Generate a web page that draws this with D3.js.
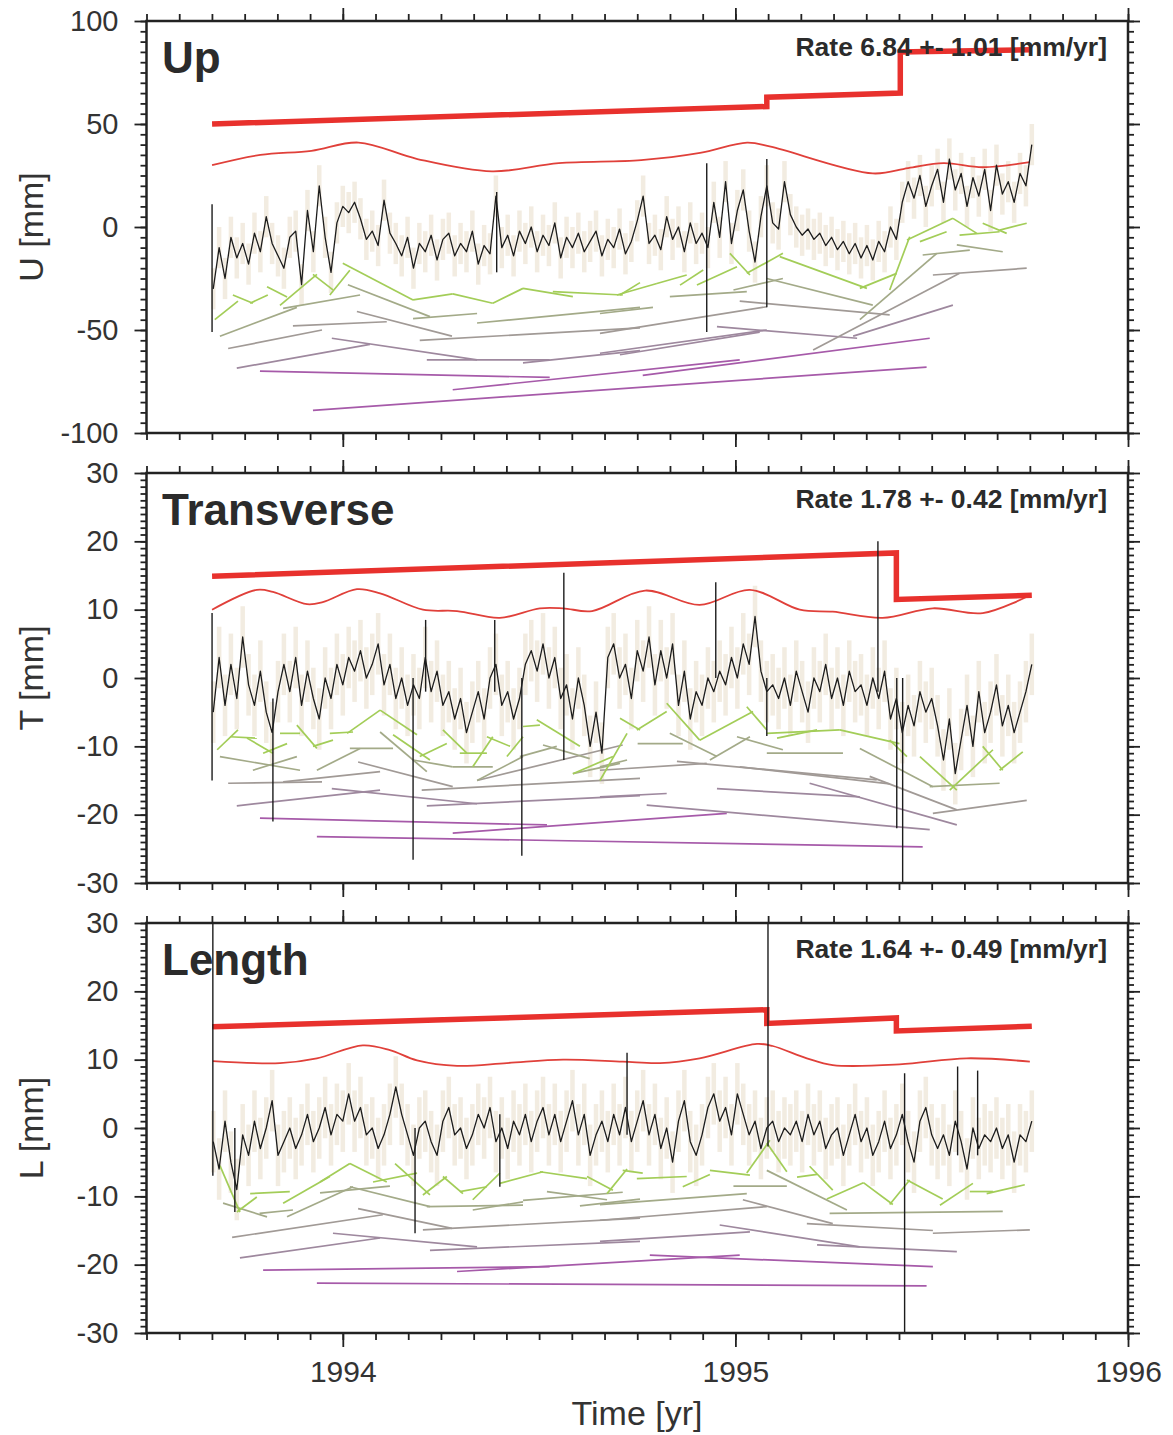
<!DOCTYPE html>
<html>
<head>
<meta charset="utf-8">
<script src="https://cdn.jsdelivr.net/npm/d3@7"></script>
<style>
  body { margin: 0; background: #fff; }
  text { font-family: "Liberation Sans", Arial, Helvetica, sans-serif; }
</style>
</head>
<body>
<div id="chart"></div>
<script>
const W = 1173, H = 1435;
const xLeft = 146.5, xRight = 1128;
const xDomain = [1993.5, 1996];
const years = [1994, 1995, 1996];

const titles = ["Up", "Transverse", "Length"];
const yLabels = ["U [mm]", "T [mm]", "L [mm]"];
const yDomains = [[-100, 100], [-30, 30], [-30, 30]];
const rates = ["Rate 6.84 +- 1.01 [mm/yr]", "Rate 1.78 +- 0.42 [mm/yr]", "Rate 1.64 +- 0.49 [mm/yr]"];

// daily-ish samples, every ~0.015 yr
const tStart = 1993.67, tStep = 0.015;

const upValues = [
  -30,-10,-25,-5,-15,-8,-18,-3,-12,5,
  -8,-14,-20,-5,-2,-28,8,-12,20,-5,
  -22,2,10,7,12,4,-6,-2,-9,13,
  -3,-8,-14,-5,-20,-8,-12,-4,-16,-6,
  -3,-14,-8,-12,-2,-18,-9,-13,15,-10,
  -4,-14,-2,-8,0,-12,-4,-9,2,-15,
  -5,-10,-3,-12,-7,-2,-14,-6,-10,-1,
  -13,-7,3,15,-8,-4,-11,5,-6,0,
  -12,2,-8,-3,-10,12,-5,22,-8,8,
  18,-2,-17,5,20,2,-1,22,6,0,
  -4,-1,-6,-3,-9,-5,-11,-7,-13,-8,
  -15,-9,-16,-7,-12,0,-6,12,22,14,
  25,10,20,28,12,33,18,26,10,24,
  15,28,8,30,16,22,12,26,20,40
];
const transValues = [
  -5,3,-4,2,-3,6,-1,-4,1,-5,
  -8,-2,2,-2,3,-4,1,-3,-6,0,
  -3,2,-1,3,1,4,0,2,5,-1,
  2,-3,0,-4,-1,-3,3,-2,1,-4,
  -2,-6,-3,-8,-5,-2,-6,0,2,-4,
  -2,-6,-3,2,4,1,5,0,3,-3,
  -1,-6,0,-4,-10,-5,-11,3,5,0,
  2,-3,4,1,6,-1,4,0,5,-4,
  1,-6,-2,-4,0,-2,1,-1,3,0,
  5,2,9,1,-2,-1,-3,0,-4,1,
  -2,-5,0,-2,2,-3,0,-4,1,-2,
  -1,-4,0,-3,1,-6,-3,-8,-4,-7,
  -2,-5,-3,-7,-12,-6,-14,-9,-4,-10,
  -2,-8,-5,-1,-7,-4,-8,-5,-2,2
];
const lenValues = [
  -2,-6,1,-5,-9,-1,-4,1,-3,0,
  4,-4,-2,0,-3,-1,2,-2,0,3,
  -1,2,1,5,1,3,-1,0,-3,-1,
  2,6,2,-1,-4,0,1,-2,-4,1,
  3,-1,0,-3,-1,2,0,3,-2,0,
  -3,1,-1,2,-2,1,3,-1,2,-2,
  1,4,-1,2,-4,-1,1,-2,2,-1,
  3,-2,1,4,-1,2,-3,0,-5,1,
  4,-2,-4,-1,3,5,1,3,-1,5,
  2,-1,1,-3,0,1,-2,0,-1,1,
  -2,2,-1,1,-3,-1,0,-4,-1,2,
  -2,0,-4,-2,1,-3,-1,2,-2,-5,
  1,3,-1,-3,-1,-4,1,-2,-6,0,
  -3,-1,-2,0,-3,-1,-5,-1,-2,1
];
const sigmas = [10, 4.5, 4.5];

// single-day outliers: [time, high, low]
const upSpikes = [[1993.667, 11, -51], [1994.392, 17, -22], [1994.927, 31, -51], [1995.080, 33, -39]];
const transSpikes = [[1993.667, 9.5, -15], [1993.822, -3, -21], [1994.179, 0, -26.6], [1994.211, 8.5, -2],
  [1994.387, 8.5, -2], [1994.456, 0, -26], [1994.563, 15.4, -12], [1994.950, 14, 0], [1995.080, 0, -8.5],
  [1995.363, 20, -2], [1995.411, 0, -22], [1995.426, 0, -30]];
const lenSpikes = [[1993.669, 30, -7], [1993.725, 0, -12.3], [1994.184, 0, -15.4], [1994.400, 2, -8.6],
  [1994.724, 11, -1], [1995.083, 30, -2.7], [1995.431, 8, -30], [1995.566, 9, -4], [1995.617, 8.4, -4]];

// rate + offsets model (thick red)
const upStep = [[1993.667, 50], [1995.08, 58.5], [1995.08, 63], [1995.42, 65], [1995.42, 85], [1995.755, 86]];
const transStep = [[1993.667, 14.9], [1995.41, 18.3], [1995.41, 11.5], [1995.755, 12.1]];
const lenStep = [[1993.667, 14.8], [1995.08, 17.3], [1995.08, 15.3], [1995.41, 16.1], [1995.41, 14.2], [1995.755, 14.9]];

// seasonal model (thin red)
const upSeasonal = [[1993.667,30],[1993.79,35],[1993.92,37],[1994.04,41],[1994.19,33],[1994.38,27],[1994.55,31],
  [1994.76,32.5],[1994.91,36],[1995.03,41],[1995.09,39],[1995.35,26],[1995.44,28.6],[1995.53,31],[1995.63,29],[1995.75,31.5]];
const transSeasonal = [[1993.667,10],[1993.781,12.9],[1993.822,12.6],[1993.909,10.8],[1993.949,11.1],[1994.036,13],
  [1994.095,12.4],[1994.204,10],[1994.291,9.8],[1994.40,8.8],[1994.502,10.2],[1994.561,10.2],[1994.635,9.8],
  [1994.77,12.8],[1994.909,10.7],[1995.037,12.9],[1995.164,10],[1995.248,9.7],[1995.375,8.8],[1995.503,10.2],
  [1995.63,9.5],[1995.75,12.1]];
const lenSeasonal = [[1993.669,9.8],[1993.84,9.5],[1993.934,10.2],[1994.051,12.1],[1994.12,11.4],[1994.189,9.9],
  [1994.291,9.1],[1994.418,9.5],[1994.561,10],[1994.713,9.7],[1994.808,9.5],[1994.909,10.2],[1995.055,12.3],
  [1995.095,12],[1995.182,10.2],[1995.248,9.2],[1995.418,9.3],[1995.589,10.2],[1995.75,9.7]];

// multi-scale fits: [level, t0, v0, t1, v1]
const upSegs = [
  [0,1993.674,-45,1993.733,-36],[0,1993.720,-33,1993.771,-37],[0,1993.764,-37,1993.809,-33],
  [0,1993.807,-29,1993.858,-34],[0,1993.840,-38,1993.934,-23],[0,1993.924,-23,1993.975,-30.5],
  [0,1993.967,-33,1994.018,-21],[0,1994.000,-17.6,1994.179,-35.4],[0,1994.179,-35.4,1994.280,-32.5],
  [0,1994.280,-32.5,1994.382,-37],[0,1994.382,-37,1994.459,-29.8],[0,1994.459,-29.8,1994.586,-33.8],
  [0,1994.535,-31.4,1994.713,-33],[0,1994.706,-33,1994.757,-27],[0,1994.698,-33,1994.800,-27.4],
  [0,1994.800,-27.4,1994.876,-23.3],[0,1994.859,-28.2,1994.918,-20.9],[0,1994.902,-28.2,1995.004,-19.3],
  [0,1994.986,-12.8,1995.037,-23.3],[0,1995.029,-22.5,1995.121,-12.8],[0,1995.113,-14.4,1995.335,-29.8],
  [0,1995.317,-29.8,1995.411,-22.5],[0,1995.393,-30.6,1995.444,-4.7],[0,1995.437,-6.3,1995.554,4.2],
  [0,1995.470,-7.1,1995.538,-2.3],[0,1995.554,4.2,1995.615,-3.1],[0,1995.571,-3.9,1995.673,-2.3],
  [0,1995.630,1.8,1995.691,-3.1],[0,1995.673,-1.5,1995.742,1.8],
  [1,1993.687,-53,1993.883,-39],[1,1993.848,-39.5,1994.044,-33],[1,1994.013,-28,1994.222,-43.5],
  [1,1994.179,-44.5,1994.342,-42],[1,1994.342,-46.6,1994.757,-39],[1,1994.655,-42,1994.790,-39],
  [1,1994.833,-33.8,1995.029,-31.4],[1,1994.995,-30.6,1995.121,-25],[1,1995.080,-25,1995.350,-37.9],
  [1,1995.317,-45,1995.513,-12.8],[1,1995.477,-13.6,1995.597,-11.2],[1,1995.564,-8.7,1995.681,-12],
  [2,1993.873,-48,1994.112,-46],[2,1993.708,-59,1993.947,-50],[2,1994.036,-41,1994.278,-53],
  [2,1994.196,-55,1994.757,-49],[2,1994.655,-51.6,1995.080,-38.7],[2,1995.011,-36,1995.393,-42.7],
  [2,1995.198,-59.7,1995.571,-22.5],[2,1995.503,-23.3,1995.742,-20],
  [3,1993.730,-68.5,1994.069,-57],[3,1993.972,-54,1994.342,-64.5],[3,1994.214,-64.5,1994.527,-64.5],
  [3,1994.459,-66,1994.757,-60],[3,1994.655,-61.3,1995.080,-50],[3,1994.706,-62,1995.062,-51],
  [3,1994.953,-48.4,1995.310,-54],[3,1995.300,-53,1995.554,-37.9],
  [4,1993.789,-70,1994.527,-73],[4,1994.280,-79,1995.011,-64.5],[4,1994.764,-72,1995.495,-54],
  [4,1993.924,-89,1995.487,-68]
];
const transSegs = [
  [0,1993.680,-10.5,1993.733,-7.6],[0,1993.713,-8.6,1993.781,-8.8],[0,1993.756,-8.8,1993.822,-11],
  [0,1993.797,-11,1993.858,-9.6],[0,1993.840,-8.1,1993.891,-8.1],[0,1993.883,-6.9,1993.934,-10.3],
  [0,1993.924,-10,1993.975,-9.1],[0,1993.967,-8.1,1994.026,-7.9],[0,1994.011,-8.1,1994.095,-4.7],
  [0,1994.095,-4.7,1994.189,-8.3],[0,1994.128,-8.3,1994.222,-12],[0,1994.196,-11.5,1994.265,-9.6],
  [0,1994.255,-7.6,1994.316,-11],[0,1994.298,-11,1994.367,-11],[0,1994.331,-13,1994.382,-8.6],
  [0,1994.367,-8.6,1994.426,-10],[0,1994.418,-11.5,1994.459,-8.6],[0,1994.459,-7.1,1994.502,-6.9],
  [0,1994.494,-6.1,1994.604,-10],[0,1994.586,-14,1994.688,-11.5],[0,1994.655,-15,1994.724,-8.1],
  [0,1994.706,-5.9,1994.757,-7.6],[0,1994.749,-7.6,1994.825,-4.9],[0,1994.825,-3.7,1994.909,-9.1],
  [0,1994.909,-9.1,1995.045,-4.9],[0,1995.029,-4.2,1995.080,-7.6],[0,1995.080,-8.1,1995.266,-7.6],
  [0,1995.106,-8.8,1995.208,-7.6],[0,1995.266,-7.6,1995.418,-9.6],[0,1995.393,-9.1,1995.437,-11.5],
  [0,1995.470,-11.5,1995.564,-16.4],[0,1995.546,-16.4,1995.656,-10.5],[0,1995.630,-10,1995.681,-13.5],
  [0,1995.673,-13.5,1995.732,-10.8],
  [1,1993.687,-11.5,1993.891,-13.5],[1,1993.771,-13.5,1993.883,-11.5],[1,1993.934,-13.5,1994.044,-10.3],
  [1,1994.018,-10.3,1994.128,-10.3],[1,1994.095,-7.9,1994.214,-13.7],[1,1994.179,-12,1994.280,-13],
  [1,1994.280,-13,1994.382,-13],[1,1994.342,-15,1994.459,-11.5],[1,1994.451,-11.5,1994.545,-10],
  [1,1994.510,-9.8,1994.629,-11.8],[1,1994.586,-14,1994.706,-12.5],[1,1994.655,-13,1994.724,-12],
  [1,1994.751,-9.6,1994.866,-9.6],[1,1994.833,-8.1,1994.953,-11.5],[1,1994.935,-12,1995.037,-8.6],
  [1,1995.004,-8.6,1995.121,-10.5],[1,1995.080,-11,1995.274,-11],[1,1995.317,-10.3,1995.503,-15.9],
  [1,1995.495,-15.9,1995.673,-15.4],
  [2,1993.708,-15.4,1993.947,-15.2],[2,1993.848,-15.2,1994.095,-13.7],[2,1994.039,-12.3,1994.280,-15.9],
  [2,1994.201,-16.4,1994.757,-14.7],[2,1994.342,-15,1994.713,-9.8],[2,1994.655,-13.5,1994.927,-12.5],
  [2,1994.851,-12.2,1995.360,-14.9],[2,1995.011,-13,1995.393,-15.5],[2,1995.342,-14.4,1995.564,-19.3],
  [2,1995.503,-19.8,1995.742,-17.9],
  [3,1993.730,-18.7,1994.095,-16.4],[3,1993.972,-16.2,1994.342,-18.4],[3,1994.214,-18.7,1994.757,-17.2],
  [3,1994.655,-17.4,1994.825,-16.9],[3,1994.953,-16.2,1995.317,-17.4],[3,1995.189,-15.4,1995.564,-21.5],
  [3,1994.774,-18.6,1995.495,-22.2],
  [4,1993.789,-20.5,1994.520,-21.5],[4,1994.280,-22.7,1994.978,-19.8],[4,1993.934,-23.2,1995.477,-24.7]
];
const lenSegs = [
  [0,1993.687,-5.5,1993.738,-12.3],[0,1993.730,-12.3,1993.781,-10.1],[0,1993.764,-9.6,1993.865,-9.3],
  [0,1993.848,-11,1993.967,-7.1],[0,1993.942,-7.9,1994.018,-5.2],[0,1994.018,-5.2,1994.112,-7.9],
  [0,1994.077,-7.9,1994.189,-6.6],[0,1994.133,-5.2,1994.222,-9.8],[0,1994.204,-9.8,1994.265,-7.1],
  [0,1994.255,-7.1,1994.306,-9.6],[0,1994.298,-9.3,1994.367,-8.6],[0,1994.331,-10.5,1994.400,-6.6],
  [0,1994.400,-8.1,1994.510,-6.4],[0,1994.502,-6.4,1994.622,-7.4],[0,1994.622,-7.1,1994.688,-9.1],
  [0,1994.673,-9.6,1994.724,-6.0],[0,1994.713,-6.2,1994.764,-6.6],[0,1994.749,-7.4,1994.876,-7.1],
  [0,1994.866,-8.6,1994.935,-6.8],[0,1994.935,-6.2,1995.037,-6.9],[0,1995.029,-6.6,1995.088,-1.8],
  [0,1995.080,-2.2,1995.131,-6.4],[0,1995.157,-7.2,1995.208,-6.8],[0,1995.189,-5.6,1995.248,-9.1],
  [0,1995.233,-10.4,1995.326,-8.0],[0,1995.326,-8.0,1995.401,-11.2],[0,1995.393,-11.2,1995.444,-7.6],
  [0,1995.437,-7.6,1995.528,-10.4],[0,1995.521,-11.3,1995.605,-8.1],[0,1995.597,-9.3,1995.656,-9.3],
  [0,1995.640,-9.6,1995.737,-8.3],
  [1,1993.695,-11,1993.807,-13],[1,1993.788,-12.5,1993.873,-12],[1,1993.858,-13,1994.026,-8.6],
  [1,1993.942,-9.5,1994.120,-8.5],[1,1994.018,-8.6,1994.222,-11.5],[1,1994.214,-11.5,1994.459,-11.3],
  [1,1994.331,-12,1994.459,-10.8],[1,1994.459,-10.6,1994.713,-9.4],[1,1994.520,-9.3,1994.673,-10.5],
  [1,1994.604,-11.4,1994.757,-10.4],[1,1994.655,-11.2,1995.029,-9.6],[1,1994.995,-8.5,1995.131,-8.5],
  [1,1995.080,-6.2,1995.284,-12],[1,1995.240,-12.5,1995.681,-12.2],
  [2,1993.718,-16,1994.102,-12.7],[2,1994.039,-11.8,1994.278,-14.7],[2,1994.204,-14.9,1994.757,-13.2],
  [2,1994.655,-13.5,1995.080,-11.5],[2,1995.019,-10.5,1995.248,-14],[2,1995.182,-14,1995.503,-15],
  [2,1995.503,-15.4,1995.750,-14.9],
  [3,1993.738,-19,1994.095,-16.1],[3,1993.975,-15.4,1994.342,-17.4],[3,1994.222,-17.9,1994.757,-16.6],
  [3,1994.655,-16.6,1995.037,-15.2],[3,1994.960,-14.2,1995.317,-17.4],[3,1995.208,-17.1,1995.564,-18.1],
  [4,1993.797,-20.8,1994.527,-20.3],[4,1994.291,-21,1995.011,-18.6],[4,1994.782,-18.6,1995.503,-20.3],
  [4,1993.934,-22.7,1995.487,-23.1]
];

const levelColors = ["#a3cd58", "#a3aa88", "#a19a96", "#9e889e", "#a65aa9"];

const panels = [
  { top: 21,  bottom: 433,  major: 50, minor: 5, vals: upValues,    spikes: upSpikes,    step: upStep,    seas: upSeasonal,    segs: upSegs },
  { top: 473, bottom: 883,  major: 10, minor: 1, vals: transValues, spikes: transSpikes, step: transStep, seas: transSeasonal, segs: transSegs },
  { top: 923, bottom: 1333, major: 10, minor: 1, vals: lenValues,   spikes: lenSpikes,   step: lenStep,   seas: lenSeasonal,   segs: lenSegs }
];

const svg = d3.select("#chart").append("svg")
    .attr("width", W)
    .attr("height", H);

const x = d3.scaleLinear().domain(xDomain).range([xLeft, xRight]);
const monthTicks = d3.range(0, 31).map(k => xDomain[0] + k / 12);

panels.forEach((p, pi) => {
    const dom = yDomains[pi];
    const y = d3.scaleLinear().domain(dom).range([p.bottom, p.top]);
    const g = svg.append("g");

    g.append("clipPath").attr("id", "clip" + pi)
        .append("rect")
        .attr("x", xLeft).attr("y", p.top)
        .attr("width", xRight - xLeft).attr("height", p.bottom - p.top);

    const plot = g.append("g").attr("clip-path", `url(#clip${pi})`);
    const times = p.vals.map((v, i) => tStart + i * tStep);
    const sig = sigmas[pi];

    // formal errors (tan haze)
    plot.append("g").selectAll("line")
        .data(p.vals)
        .enter().append("line")
        .attr("x1", (d, i) => x(times[i]))
        .attr("x2", (d, i) => x(times[i]))
        .attr("y1", d => y(d - sig))
        .attr("y2", d => y(d + sig))
        .attr("stroke", "#e4d6bd")
        .attr("stroke-width", 4.5)
        .attr("opacity", 0.45);

    // multi-scale segments, coarse first
    plot.append("g").selectAll("line")
        .data(p.segs.slice().sort((a, b) => b[0] - a[0]))
        .enter().append("line")
        .attr("x1", d => x(d[1]))
        .attr("y1", d => y(d[2]))
        .attr("x2", d => x(d[3]))
        .attr("y2", d => y(d[4]))
        .attr("stroke", d => levelColors[d[0]])
        .attr("stroke-width", 1.7);

    // seasonal
    plot.append("path")
        .datum(p.seas)
        .attr("fill", "none")
        .attr("stroke", "#e0403a")
        .attr("stroke-width", 1.8)
        .attr("d", d3.line().x(d => x(d[0])).y(d => y(d[1])).curve(d3.curveCatmullRom.alpha(0.5)));

    // rate + offsets
    plot.append("path")
        .datum(p.step)
        .attr("fill", "none")
        .attr("stroke", "#e8312d")
        .attr("stroke-width", 5.5)
        .attr("stroke-linejoin", "miter")
        .attr("d", d3.line().x(d => x(d[0])).y(d => y(d[1])));

    // data
    plot.append("path")
        .datum(p.vals)
        .attr("fill", "none")
        .attr("stroke", "#1c1c1c")
        .attr("stroke-width", 1.3)
        .attr("stroke-linejoin", "round")
        .attr("d", d3.line().x((d, i) => x(times[i])).y(d => y(d)));

    plot.append("g").selectAll("line")
        .data(p.spikes)
        .enter().append("line")
        .attr("x1", d => x(d[0]))
        .attr("x2", d => x(d[0]))
        .attr("y1", d => y(d[1]))
        .attr("y2", d => y(d[2]))
        .attr("stroke", "#1c1c1c")
        .attr("stroke-width", 1.4);

    // axes
    const majorTicks = d3.range(dom[0], dom[1] + 0.001, p.major);
    const minorTicks = d3.range(dom[0], dom[1] + 0.001, p.minor);
    const styleAxis = sel => {
        sel.select(".domain").remove();
        sel.selectAll("line").attr("stroke", "#222").attr("stroke-width", 1.8);
        sel.selectAll("text").attr("fill", "#333");
        sel.attr("font-family", null).attr("font-size", 29);
    };

    g.append("g").attr("transform", `translate(${xLeft},0)`)
        .call(d3.axisLeft(y).tickValues(minorTicks).tickSize(6).tickFormat(""))
        .call(styleAxis);
    g.append("g").attr("transform", `translate(${xLeft},0)`)
        .call(d3.axisLeft(y).tickValues(majorTicks).tickSize(12).tickPadding(16).tickFormat(d => String(d)))
        .call(styleAxis);
    g.append("g").attr("transform", `translate(${xRight},0)`)
        .call(d3.axisRight(y).tickValues(minorTicks).tickSize(6).tickFormat(""))
        .call(styleAxis);
    g.append("g").attr("transform", `translate(${xRight},0)`)
        .call(d3.axisRight(y).tickValues(majorTicks).tickSize(12).tickFormat(""))
        .call(styleAxis);

    g.append("g").attr("transform", `translate(0,${p.top})`)
        .call(d3.axisTop(x).tickValues(monthTicks).tickSize(7).tickFormat(""))
        .call(styleAxis);
    g.append("g").attr("transform", `translate(0,${p.top})`)
        .call(d3.axisTop(x).tickValues(years).tickSize(13).tickFormat(""))
        .call(styleAxis);
    g.append("g").attr("transform", `translate(0,${p.bottom})`)
        .call(d3.axisBottom(x).tickValues(monthTicks).tickSize(7).tickFormat(""))
        .call(styleAxis);
    g.append("g").attr("transform", `translate(0,${p.bottom})`)
        .call(d3.axisBottom(x).tickValues(years).tickSize(14).tickPadding(14)
            .tickFormat(pi === panels.length - 1 ? d => String(d) : ""))
        .call(styleAxis)
        .call(sel => sel.attr("font-size", 30));

    g.append("rect")
        .attr("x", xLeft).attr("y", p.top)
        .attr("width", xRight - xLeft).attr("height", p.bottom - p.top)
        .attr("fill", "none")
        .attr("stroke", "#222")
        .attr("stroke-width", 2.5);

    g.append("text")
        .attr("x", 162)
        .attr("y", p.top + 52)
        .attr("font-size", 44)
        .attr("font-weight", "bold")
        .attr("fill", "#2b2b2b")
        .text(titles[pi]);

    g.append("text")
        .attr("x", 1107)
        .attr("y", p.top + 35)
        .attr("text-anchor", "end")
        .attr("font-size", 26.5)
        .attr("font-weight", "bold")
        .attr("fill", "#2b2b2b")
        .text(rates[pi]);

    g.append("text")
        .attr("transform", `translate(43,${(p.top + p.bottom) / 2}) rotate(-90)`)
        .attr("text-anchor", "middle")
        .attr("font-size", 34)
        .attr("fill", "#333")
        .text(yLabels[pi]);
});

svg.append("text")
    .attr("x", 637)
    .attr("y", 1425)
    .attr("text-anchor", "middle")
    .attr("font-size", 34)
    .attr("fill", "#333")
    .text("Time [yr]");
</script>
</body>
</html>
